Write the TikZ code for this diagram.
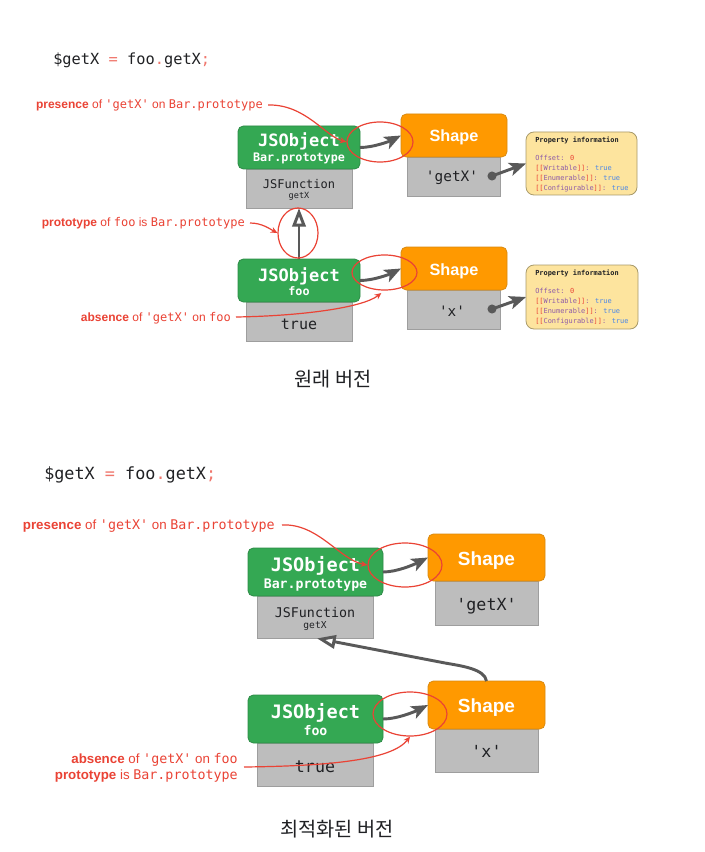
\documentclass[tikz,border=0pt]{standalone}
\usepackage{fontspec}
\setmainfont{Liberation Sans}
\newfontfamily\monofont[Ligatures=TeXOff]{DejaVu Sans Mono}
\newfontfamily\krfont{Noto Sans CJK KR}
\usetikzlibrary{arrows.meta,fit,shapes.geometric}
\definecolor{jsgreen}{HTML}{34A853}
\definecolor{jsgreenb}{HTML}{2E8B47}
\definecolor{jsorange}{HTML}{FF9900}
\definecolor{jsorangeb}{HTML}{D98A10}
\definecolor{boxgray}{HTML}{BDBDBD}
\definecolor{boxgrayb}{HTML}{9E9E9E}
\definecolor{propfill}{HTML}{FDE49E}
\definecolor{propdraw}{HTML}{A89A6A}
\definecolor{arrgray}{HTML}{595959}
\definecolor{hlred}{HTML}{EA4335}
\definecolor{codered}{HTML}{F0766C}
\definecolor{txtdark}{HTML}{202124}
\definecolor{ppurple}{HTML}{8E5BA8}
\definecolor{pblue}{HTML}{4A86E8}
\newcommand\setfs[1]{\fontsize{#1pt}{#1pt}\selectfont}
\newcommand\propinfo{%
{\bfseries Property information}\\[6.2pt]
\textcolor{ppurple}{Offset:} \textcolor{hlred}{0}\\
\textcolor{hlred}{[[}\textcolor{ppurple}{Writable}\textcolor{hlred}{]]}\textcolor{ppurple}{:} \textcolor{pblue}{true}\\
\textcolor{hlred}{[[}\textcolor{ppurple}{Enumerable}\textcolor{hlred}{]]}\textcolor{ppurple}{:} \textcolor{pblue}{true}\\
\textcolor{hlred}{[[}\textcolor{ppurple}{Configurable}\textcolor{hlred}{]]}\textcolor{ppurple}{:} \textcolor{pblue}{true}}
\begin{document}
\begin{tikzpicture}[x=0.75pt,y=-0.75pt,
  box/.style={inner sep=0pt, outer sep=0pt},
  greenbox/.style={box, fill=jsgreen, draw=jsgreenb, line width=0.6pt, rounded corners=4pt},
  orangebox/.style={box, fill=jsorange, draw=jsorangeb, line width=0.6pt, rounded corners=4pt},
  graybox/.style={box, fill=boxgray, draw=boxgrayb, line width=0.6pt},
  propbox/.style={box, fill=propfill, draw=propdraw, line width=0.6pt, rounded corners=6pt},
  txt/.style={inner sep=0pt, anchor=base},
  wmono/.style={txt, text=white, font=\monofont\bfseries\setfs{#1}},
  dmono/.style={txt, text=txtdark, font=\monofont\setfs{#1}},
  wsans/.style={txt, text=white, font=\bfseries\setfs{#1}},
  lbl/.style={inner sep=0pt, anchor=base east, text=hlred, font=\setfs{#1}},
  proptxt/.style={inner sep=0pt, anchor=north west, align=left, text=txtdark, font=\monofont\fontsize{5.2pt}{7.3pt}\selectfont},
  dot/.style={circle, fill=arrgray, inner sep=0pt, minimum size=6.8pt},
  garrow/.style={draw=arrgray, line width=2.2pt, -{Stealth[length=12.5pt,width=10pt,inset=3pt]}},
  parrow/.style={draw=arrgray, line width=2.2pt, -{Triangle[length=14pt,width=10pt,fill=white]}},
  hlell/.style={ellipse, draw=hlred, line width=0.9pt, inner sep=0pt},
  hlarrow/.style={draw=hlred, line width=0.9pt, -{Stealth[length=5pt,width=4.5pt]}}
]
\useasboundingbox[fill=white] (0,0) rectangle (705,852);

% ================= Diagram 1 =================
\node[txt, anchor=base west, text=txtdark, font=\monofont\setfs{11.5}] (code1) at (53,65)
  {\$getX \textcolor{codered}{=} foo\textcolor{codered}{.}getX\textcolor{codered}{;}};

\node[graybox, fit={(246,169) (352,208)}] (bp1g) {};
\node[greenbox, fit={(238,126) (360,169)}] (bp1) {};
\node[graybox, fit={(407,157) (500,196)}] (s1g) {};
\node[orangebox, fit={(401,114) (507,157)}] (s1) {};
\node[propbox, fit={(526,132) (637,195)}] (p1) {};
\node[graybox, fit={(246,302) (352,341)}] (f1g) {};
\node[greenbox, fit={(238,259) (360,302)}] (f1) {};
\node[graybox, fit={(407,290) (500,329)}] (s1bg) {};
\node[orangebox, fit={(401,247) (507,290)}] (s1b) {};
\node[propbox, fit={(526,265) (638,329)}] (p2) {};

\node[wmono=12.75] (bp1t) at (299,147) {JSObject};
\node[wmono=8.8] (bp1s) at (299,162) {Bar.prototype};
\node[dmono=9] (bp1gt) at (299,189) {JSFunction};
\node[dmono=6.4] (bp1gs) at (299,199) {getX};
\node[wsans=12.2] (s1t) at (454,142) {Shape};
\node[dmono=10.8] (s1gt) at (452,182) {'getX'};
\node[proptxt] (p1t) at (535,137) {\propinfo};

\node[wmono=12.75] (f1t) at (299,281) {JSObject};
\node[wmono=8.8] (f1s) at (299,295) {foo};
\node[dmono=11.25] (f1gt) at (299,329) {true};
\node[wsans=12.2] (s1bt) at (454,275) {Shape};
\node[dmono=10.8] (s1bgt) at (452,316) {'x'};
\node[proptxt] (p2t) at (535,270) {\propinfo};

\node[dot] (d1) at (492,176) {};
\node[dot] (d2) at (492,309) {};

\draw[garrow] (bp1.east) .. controls +(13,0) and +(-12,6) .. (s1.west);
\draw[garrow] (f1.east) .. controls +(13,0) and +(-12,6) .. (s1b.west);
\draw[garrow] (d1.center) -- (p1.west);
\draw[garrow] (d2.center) -- (p2.west);
\draw[parrow] (f1.north) -- (bp1g.south);

\node[hlell, minimum width=49.5pt, minimum height=30pt] (e1) at (380,142) {};
\node[hlell, minimum width=30pt, minimum height=37.5pt] (e2) at (298,233) {};
\node[hlell, minimum width=48.75pt, minimum height=26.25pt] (e3) at (384.5,272.5) {};

\node[lbl=9.0] (l1) at (263,109) {\textbf{presence} of {\monofont 'getX'} on {\monofont Bar.prototype}};
\node[lbl=9.0] (l2) at (245,227) {\textbf{prototype} of {\monofont foo} is {\monofont Bar.prototype}};
\node[lbl=9.0] (l3) at (231,321) {\textbf{absence} of {\monofont 'getX'} on {\monofont foo}};
\coordinate (c1) at (268,105);
\coordinate (c2) at (250,223);
\coordinate (c3) at (236,317);
\draw[hlarrow] (c1) .. controls (305,104) and (325,136) .. (e1.west);
\draw[hlarrow] (c2) .. controls (262,223) and (270,229) .. (e2.west);
\draw[hlarrow, shorten >=3pt] (c3) .. controls (300,316) and (362,308) .. (e3.south);

\node[txt, font=\krfont\setfs{14.8}, text=txtdark] (cap1) at (333,386) {원래 버전};

% ================= Diagram 2 =================
\node[txt, anchor=base west, text=txtdark, font=\monofont\setfs{12.6}] (code2) at (44,479)
  {\$getX \textcolor{codered}{=} foo\textcolor{codered}{.}getX\textcolor{codered}{;}};

\node[graybox, fit={(257,596) (373,638)}] (bp2g) {};
\node[greenbox, fit={(248,548) (383,596)}] (bp2) {};
\node[graybox, fit={(435,581) (538,625)}] (s2g) {};
\node[orangebox, fit={(428,534) (545,581)}] (s2) {};
\node[graybox, fit={(257,743) (373,786)}] (f2g) {};
\node[greenbox, fit={(248,695) (383,743)}] (f2) {};
\node[graybox, fit={(435,729) (538,772)}] (s2bg) {};
\node[orangebox, fit={(428,681) (545,729)}] (s2b) {};

\node[wmono=13.9] (bp2t) at (315.5,571) {JSObject};
\node[wmono=9.9] (bp2s) at (315.5,588) {Bar.prototype};
\node[dmono=10] (bp2gt) at (315,617) {JSFunction};
\node[dmono=7.2] (bp2gs) at (315,628) {getX};
\node[wsans=14.25] (s2t) at (486.5,565) {Shape};
\node[dmono=12.5] (s2gt) at (486.5,610) {'getX'};

\node[wmono=13.9] (f2t) at (315.5,718) {JSObject};
\node[wmono=9.9] (f2s) at (315.5,735) {foo};
\node[dmono=12.5] (f2gt) at (315,772) {true};
\node[wsans=14.25] (s2bt) at (486.5,712) {Shape};
\node[dmono=12.5] (s2bgt) at (486.5,757) {'x'};

\draw[garrow] (bp2.east) .. controls +(14,0) and +(-14,7) .. (s2.west);
\draw[garrow] (f2.east) .. controls +(14,0) and +(-14,7) .. (s2b.west);
\draw[parrow, shorten >=1.5pt] (s2b.north) .. controls +(-2,-12) and (462,666) .. (445,663) -- (bp2g.south);

\node[hlell, minimum width=55.5pt, minimum height=33pt] (e4) at (405,565) {};
\node[hlell, minimum width=55.5pt, minimum height=33pt] (e5) at (410,714) {};

\node[lbl=10] (l4) at (275,529) {\textbf{presence} of {\monofont 'getX'} on {\monofont Bar.prototype}};
\node[lbl=10] (l5a) at (238,763) {\textbf{absence} of {\monofont 'getX'} on {\monofont foo}};
\node[lbl=10] (l5b) at (238,779) {\textbf{prototype} is {\monofont Bar.prototype}};
\coordinate (c4) at (282,525);
\coordinate (c5) at (244,767);
\draw[hlarrow] (c4) .. controls (318,523) and (340,560) .. (e4.west);
\draw[hlarrow] (c5) .. controls (330,766) and (392,760) .. (e5.south);

\node[txt, font=\krfont\setfs{14.8}, text=txtdark] (cap2) at (337,836) {최적화된 버전};
\end{tikzpicture}
\end{document}
